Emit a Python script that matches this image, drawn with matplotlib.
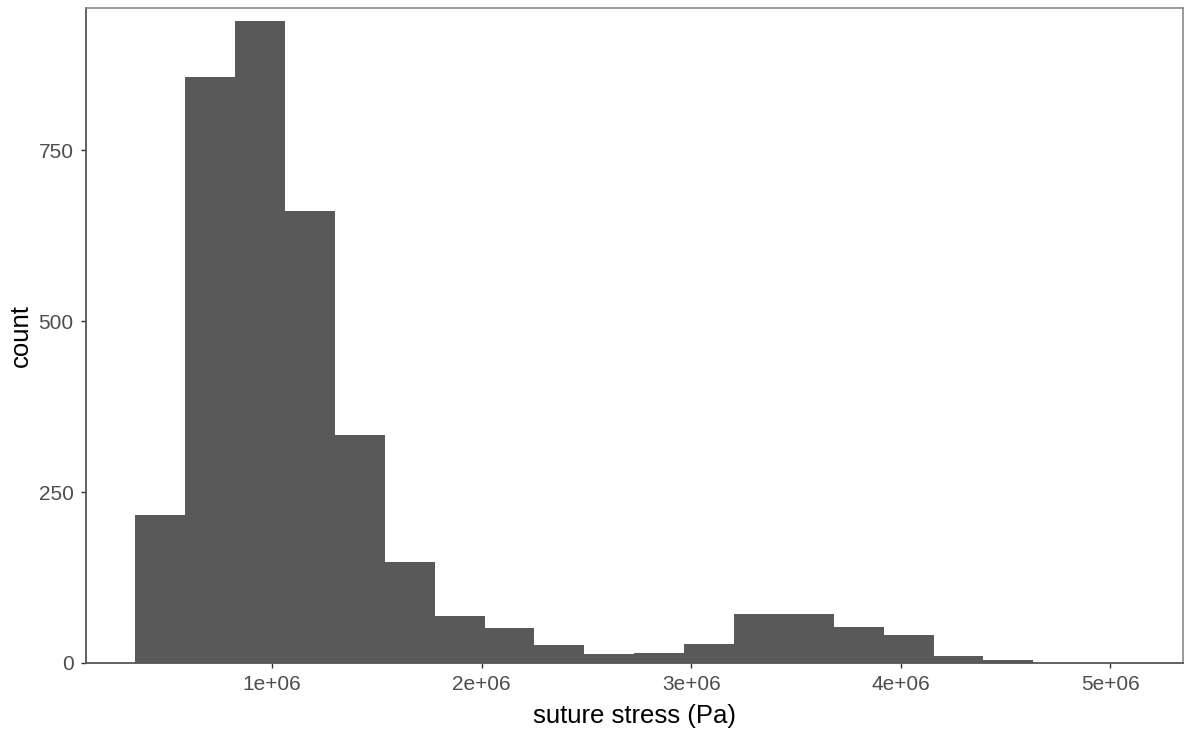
import numpy as np
import matplotlib
matplotlib.use("Agg")
import matplotlib.pyplot as plt

# histogram of suture stress, 20 bins
bin_start = 348000
bin_width = 238000
counts = [216, 857, 939, 661, 333, 147, 69, 51, 26, 13,
          15, 28, 72, 72, 53, 41, 10, 5, 0, 0]
xticks = [1e6, 2e6, 3e6, 4e6, 5e6]
xtick_labels = ["1e+06", "2e+06", "3e+06", "4e+06", "5e+06"]
yticks = [0, 250, 500, 750]

plt.rcParams['font.family'] = ['Liberation Sans', 'DejaVu Sans']

W, H = 1184, 734
fig = plt.figure(figsize=(W / 100, H / 100), dpi=100)
ax = fig.add_axes([85.5 / W, 1 - 663 / H, (1183 - 85.5) / W, (663 - 8) / H])

edges = bin_start + bin_width * np.arange(len(counts) + 1)
ax.bar(edges[:-1], counts, width=bin_width, align='edge',
       color='#595959', edgecolor='none', zorder=2)

ax.set_xlim(110000, 5346000)
ax.set_ylim(0, 958)
ax.set_xticks(xticks)
ax.set_xticklabels(xtick_labels)
ax.set_yticks(yticks)

for side in ['left', 'bottom']:
    ax.spines[side].set_color('#555555')
    ax.spines[side].set_linewidth(1.3)
for side in ['top', 'right']:
    ax.spines[side].set_color('#8a8a8a')
    ax.spines[side].set_linewidth(1.2)

ax.tick_params(axis='both', length=3.6, width=1.0, color='#333333',
               labelsize=15, labelcolor='#4d4d4d')
ax.tick_params(axis='x', pad=5)
ax.tick_params(axis='y', pad=5)

ax.set_xlabel("suture stress (Pa)", fontsize=18.5, color='black', labelpad=7)
ax.set_ylabel("count", fontsize=18.5, color='black', labelpad=4)

fig.savefig("out.png", dpi=100)
